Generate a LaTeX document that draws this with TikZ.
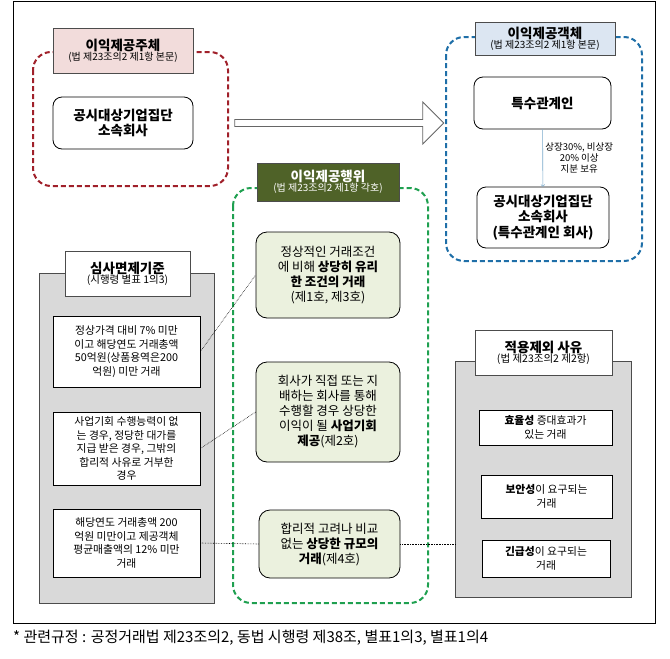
\documentclass[tikz,border=0pt]{standalone}
\usepackage{fontspec}
\setmainfont{Noto Sans CJK KR}
\usetikzlibrary{shapes.arrows}
\definecolor{redd}{HTML}{A0202A}
\definecolor{blued}{HTML}{1F6FA8}
\definecolor{greend}{HTML}{1FA050}
\definecolor{pinkf}{HTML}{F2DCDB}
\definecolor{bluef}{HTML}{DCE6F2}
\definecolor{darkg}{HTML}{4F6228}
\definecolor{greenf}{HTML}{EBF1DE}
\definecolor{grayf}{HTML}{D9D9D9}
\tikzset{
  dbox/.style={dashed,line width=2pt,dash pattern=on 5pt off 3pt,rounded corners=18pt},
  lbl/.style={draw=black!70,line width=0.8pt,align=center,inner sep=1pt},
  wbox/.style={draw=black,line width=0.8pt,rounded corners=9pt,fill=white,align=center,font=\bfseries\fontsize{13.5}{15.5}\selectfont},
  gbox/.style={draw=black,line width=0.8pt,rounded corners=11pt,fill=greenf,align=center,font=\fontsize{12.5}{15}\selectfont},
  sbox/.style={draw=black,line width=0.8pt,fill=white,align=center,font=\fontsize{10.8}{13.5}\selectfont},
  panel/.style={draw=black!70,line width=0.8pt,fill=grayf},
  dot/.style={densely dotted,line width=0.6pt}
}
\begin{document}
\begin{tikzpicture}[x=1pt,y=-1pt]
\useasboundingbox (0,0) rectangle (670,659);
\draw[line width=0.8pt] (13,1) rectangle (655,623);
% red group
\draw[dbox,draw=redd] (33,52) rectangle (228,186);
\node[lbl,fill=pinkf,minimum width=140pt,minimum height=45pt] (lr) at (123,50.5) {{\bfseries\fontsize{13.5}{15}\selectfont 이익제공주체}\\[-2pt]{\fontsize{10}{12}\selectfont (법 제23조의2 제1항 본문)}};
\node[wbox,minimum width=140pt,minimum height=52pt] (ra) at (123,123) {공시대상기업집단\\소속회사};
% big arrow
\node[single arrow,draw=black!60,fill=white,line width=0.8pt,minimum height=209pt,minimum width=42pt,single arrow head extend=2pt,single arrow tip angle=90,inner sep=0pt,shape border uses incircle=false] (ba) at (337.5,123) {};
% blue group
\draw[dbox,draw=blued] (446,37) rectangle (642,261);
\node[lbl,fill=bluef,minimum width=140pt,minimum height=33pt] (lb) at (545,38.5) {{\bfseries\fontsize{13.5}{15}\selectfont 이익제공객체}\\[-2pt]{\fontsize{10}{12}\selectfont (법 제23조의2 제1항 본문)}};
\node[wbox,minimum width=137pt,minimum height=52pt] (sp) at (542.5,103) {특수관계인};
\node[wbox,minimum width=132pt,minimum height=61pt] (sc) at (543,217.5) {공시대상기업집단\\소속회사\\(특수관계인 회사)};
\draw[->,draw=blued!60,line width=0.6pt] (sp) -- (sc) node[midway,right=-1pt,align=center,font=\fontsize{9.5}{11}\selectfont] {상장30\%, 비상장\\20\% 이상\\지분 보유};
% green group
\draw[dbox,draw=greend] (233,188) rectangle (428,603);
\node[lbl,fill=darkg,text=white,minimum width=142pt,minimum height=38pt] (lg) at (328,182) {{\bfseries\fontsize{13.5}{15}\selectfont 이익제공행위}\\[-2pt]{\fontsize{10}{12}\selectfont (법 제23조의2 제1항 각호)}};
\node[gbox,minimum width=144pt,minimum height=86pt] (g1) at (328,275) {정상적인 거래조건\\에 비해 \textbf{상당히 유리}\\\textbf{한 조건의 거래}\\(제1호, 제3호)};
\node[gbox,minimum width=144pt,minimum height=100pt] (g2) at (328,412) {회사가 직접 또는 지\\배하는 회사를 통해\\수행할 경우 상당한\\이익이 될 \textbf{사업기회}\\\textbf{제공}(제2호)};
\node[gbox,minimum width=141pt,minimum height=68pt] (g3) at (329.5,544) {합리적 고려나 비교\\없는 \textbf{상당한 규모의}\\\textbf{거래}(제4호)};
% left panel
\draw[panel] (39,273) rectangle (214,603);
\node[lbl,fill=white,minimum width=125pt,minimum height=45pt] (ll) at (127.5,273.5) {{\bfseries\fontsize{13.5}{15}\selectfont 심사면제기준}\\[-2pt]{\fontsize{10.5}{12}\selectfont (시행령 별표 1의3)}};
\node[sbox,minimum width=147pt,minimum height=71pt] (b1) at (126.5,351.5) {정상가격 대비 7\% 미만\\이고 해당연도 거래총액\\50억원(상품용역은200\\억원) 미만 거래};
\node[sbox,minimum width=147pt,minimum height=73pt] (b2) at (126.5,448.5) {사업기회 수행능력이 없\\는 경우, 정당한 대가를\\지급 받은 경우, 그밖의\\합리적 사유로 거부한\\경우};
\node[sbox,minimum width=147pt,minimum height=68pt] (b3) at (126.5,543) {해당연도 거래총액 200\\억원 미만이고 제공객체\\평균매출액의 12\% 미만\\거래};
% right panel
\draw[panel] (455,361) rectangle (631,597);
\node[lbl,fill=white,minimum width=137pt,minimum height=45pt] (lrp) at (543.5,352.5) {{\bfseries\fontsize{13.5}{15}\selectfont 적용제외 사유}\\[-2pt]{\fontsize{10.5}{12}\selectfont (법 제23조의2 제2항)}};
\node[sbox,minimum width=133pt,minimum height=35pt] (r1) at (545.5,427.5) {\textbf{효율성} 증대효과가\\있는 거래};
\node[sbox,minimum width=131pt,minimum height=43pt] (r2) at (546.5,496.5) {\textbf{보안성}이 요구되는\\거래};
\node[sbox,minimum width=128pt,minimum height=37pt] (r3) at (546,558.5) {\textbf{긴급성}이 요구되는\\거래};
% dotted links
\draw[dot] (b1.east) -- (g1.west);
\draw[dot] (b2.east) -- (g2.west);
\draw[dot] (b3.east) -- (g3.west);
\draw[dot] (g3.east) -- (455,544) coordinate (rp);
\node[anchor=west,font=\fontsize{15}{17}\selectfont,inner sep=0pt] (ft) at (13,638) {* 관련규정 : 공정거래법 제23조의2, 동법 시행령 제38조, 별표1의3, 별표1의4};
\end{tikzpicture}
\end{document}
